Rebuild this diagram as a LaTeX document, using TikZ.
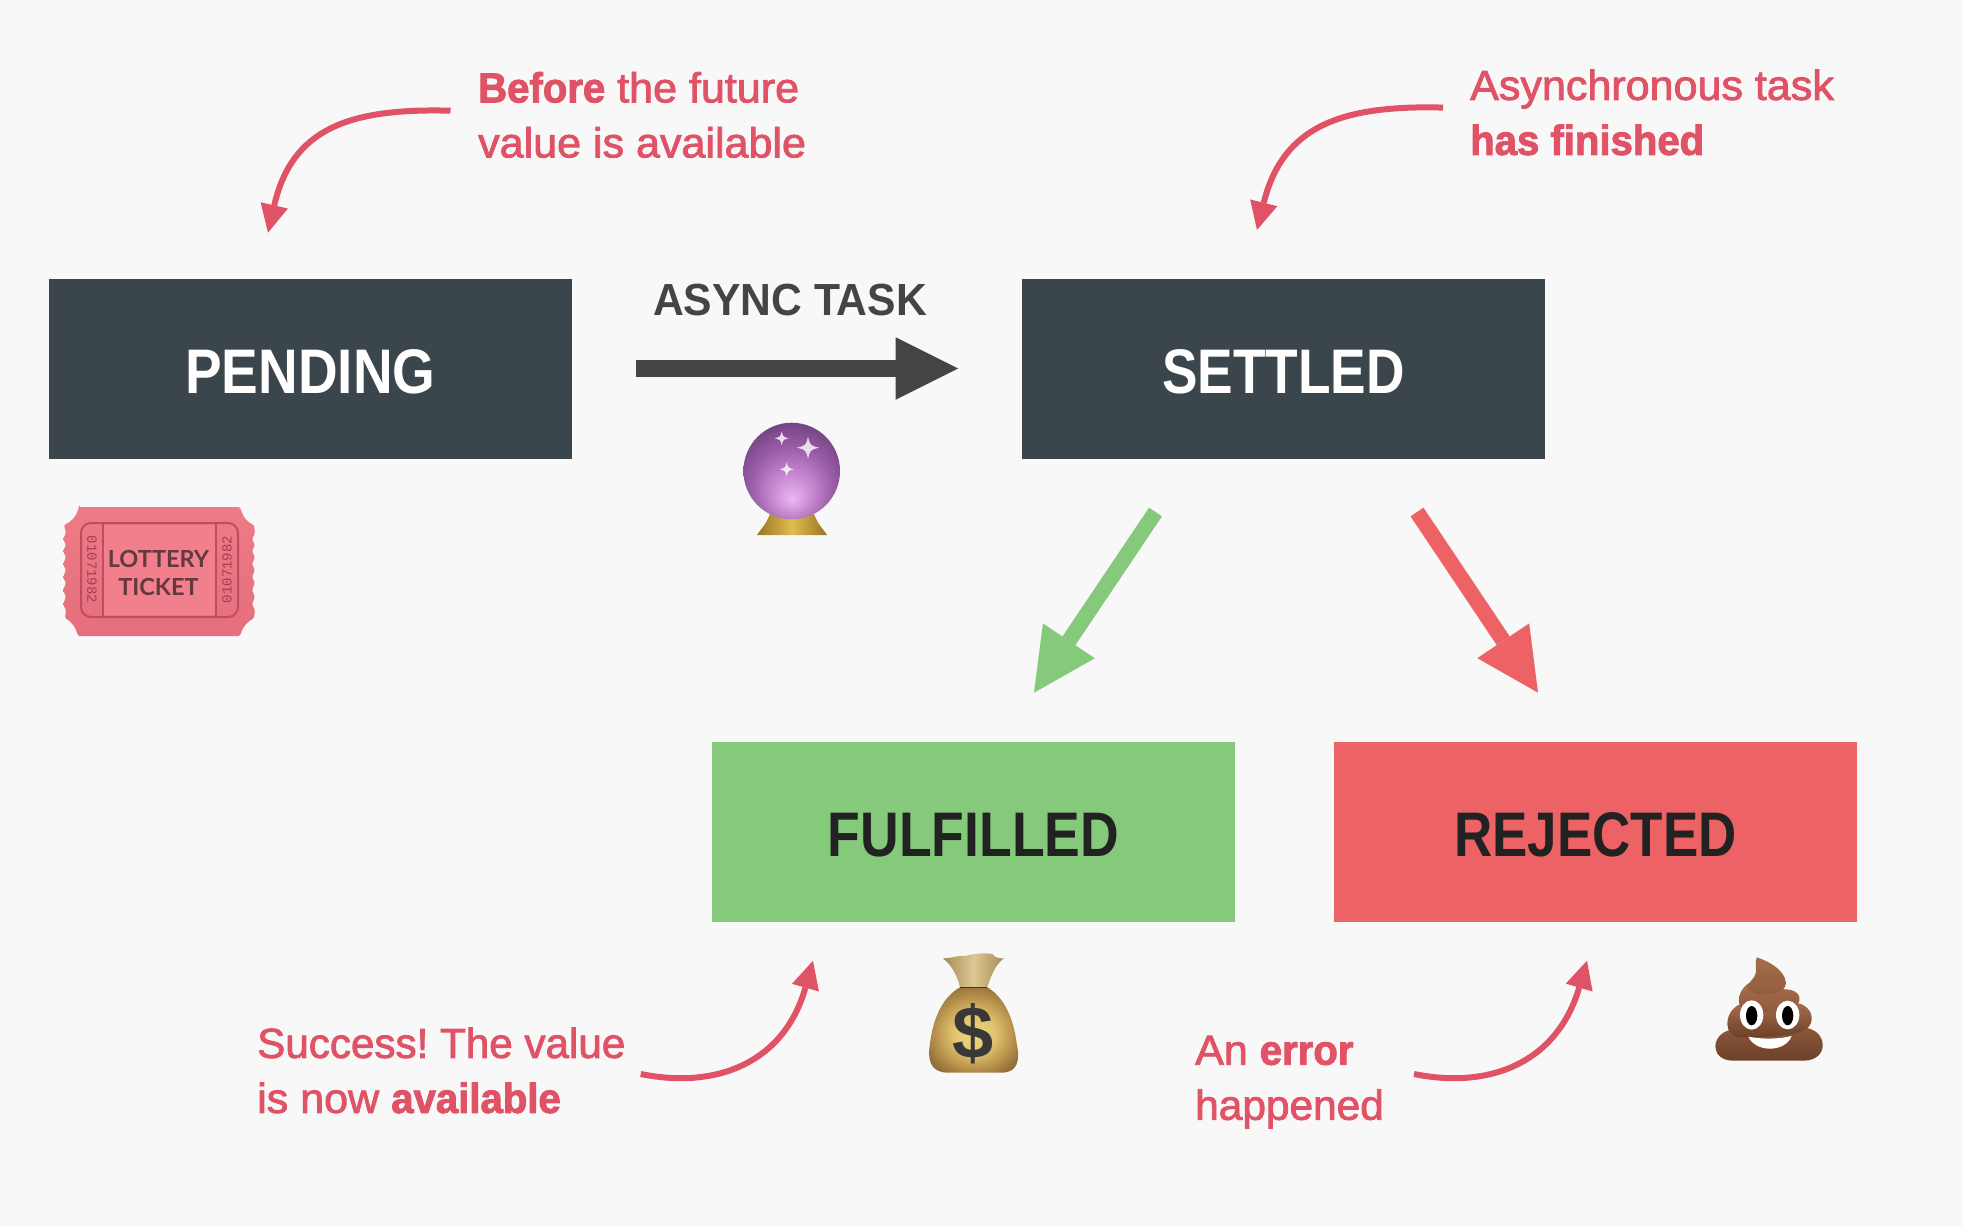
\documentclass[tikz,border=0pt]{standalone}
\usepackage{fontspec}
\usetikzlibrary{arrows.meta}
\setmainfont{Liberation Sans}
\newfontfamily\notefont[FakeStretch=1.025,FakeBold=2,BoldFeatures={FakeStretch=0.955,FakeBold=2.2}]{Liberation Sans}
\newfontfamily\ticketfont{Lato}
\newfontfamily\digitfont{Liberation Mono}
\definecolor{bgc}{HTML}{F8F8F8}
\definecolor{slate}{HTML}{3B464C}
\definecolor{okgreen}{HTML}{85C97B}
\definecolor{badred}{HTML}{ED6365}
\definecolor{notered}{HTML}{E05265}
\definecolor{asyncgrey}{HTML}{444444}
\definecolor{inktxt}{HTML}{222222}
\definecolor{tkbody}{HTML}{EE7B87}
\definecolor{tkbottom}{HTML}{E56F7C}
\definecolor{tkline}{HTML}{BE4E5F}
\definecolor{tklight}{HTML}{F1808C}
\definecolor{tktext}{HTML}{63393F}
\definecolor{tkdigit}{HTML}{A33F50}
\definecolor{goldedge}{HTML}{9A7420}
\definecolor{goldmid}{HTML}{E0BC50}
\definecolor{neckedge}{HTML}{A88A55}
\definecolor{neckmid}{HTML}{DCC893}
\definecolor{poolight}{HTML}{A56D4B}
\definecolor{poomid}{HTML}{8F5B3D}
\definecolor{poodark}{HTML}{6C4029}
\pgfdeclareradialshading{ballsh}{\pgfpoint{0bp}{-15bp}}{
  rgb(0bp)=(0.91,0.72,0.94);
  rgb(9bp)=(0.80,0.56,0.84);
  rgb(20bp)=(0.62,0.38,0.68);
  rgb(31bp)=(0.46,0.26,0.51);
  rgb(40bp)=(0.30,0.17,0.36);
  rgb(50bp)=(0.30,0.17,0.36)}
\pgfdeclareradialshading{bagsh}{\pgfpoint{0bp}{-3bp}}{
  rgb(0bp)=(0.93,0.84,0.50);
  rgb(11bp)=(0.88,0.77,0.44);
  rgb(20bp)=(0.74,0.59,0.31);
  rgb(28bp)=(0.58,0.44,0.22);
  rgb(50bp)=(0.58,0.44,0.22)}
\tikzset{
  statebox/.style={minimum width=523pt,minimum height=180pt,inner sep=0pt,text height=49.7pt,text depth=0pt,font=\fontsize{63}{63}\selectfont\bfseries},
  notetext/.style={anchor=north west,inner sep=0pt,align=left,text=notered,font=\notefont\frenchspacing\fontsize{42}{55}\selectfont},
  notearrow/.style={draw=notered,line width=6pt,-{Triangle[length=28pt,width=28pt,line width=0pt]}},
  bigarrow/.style={line width=#1,-{Triangle[length=62.5pt,width=62.5pt,line width=0pt]}},
}
\newcommand{\firstline}{\rule{0pt}{40pt}}
\newcommand{\sx}[2]{\scalebox{#1}[1]{#2}}
\newcommand{\sparkle}[3]{\fill[white,opacity=.8] (#1-#3,#2) .. controls (#1-.2*#3,#2-.2*#3) .. (#1,#2-#3) .. controls (#1+.2*#3,#2-.2*#3) .. (#1+#3,#2) .. controls (#1+.2*#3,#2+.2*#3) .. (#1,#2+#3) .. controls (#1-.2*#3,#2+.2*#3) .. cycle;}
\begin{document}
\begin{tikzpicture}[x=1pt,y=-1pt]
\useasboundingbox (0,0) rectangle (1962,1226);
\fill[bgc] (-3,-3) rectangle (1965,1229);

% state boxes
\node[statebox,fill=slate,text=white] (pending) at (310.5,368.5) {\sx{0.872}{PENDING}};
\node[statebox,fill=slate,text=white] (settled) at (1283.5,368.5) {\sx{0.845}{SETTLED}};
\node[statebox,fill=okgreen,text=inktxt] (fulfilled) at (973.5,831.5) {\sx{0.85}{FULFILLED}};
\node[statebox,fill=badred,text=inktxt] (rejected) at (1595.5,831.5) {\sx{0.84}{REJECTED}};

% async task
\node[anchor=base,inner sep=0pt,text=asyncgrey,font=\fontsize{45}{45}\selectfont\bfseries] (asynclabel) at (790,315.7) {\sx{0.947}{ASYNC TASK}};
\coordinate (asyncs) at (636,368.5);
\coordinate (asynce) at (958,368.5);
\draw[bigarrow=17pt,draw=asyncgrey,fill=asyncgrey] (asyncs) -- (asynce);

% settled outcomes
\coordinate (greens) at (1155.5,512);
\coordinate (greene) at (1034,692.7);
\coordinate (reds) at (1417,512);
\coordinate (rede) at (1538,692.7);
\draw[bigarrow=15.6pt,draw=okgreen] (greens) -- (greene);
\draw[bigarrow=15.6pt,draw=badred] (reds) -- (rede);

% notes
\node[notetext] (note1) at (478,62.2) {\firstline\textbf{Before} the future\\value is available};
\node[notetext] (note2) at (1470,59.7) {\firstline Asynchronous task\\\textbf{has finished}};
\node[notetext] (note3) at (257,1017.7) {\firstline\sx{0.98}{Success! The value}\\is now \textbf{available}};
\node[notetext] (note4) at (1195,1024.5) {\firstline An \textbf{error}\\\sx{0.985}{happened}};

\coordinate (n1s) at (450.5,110.7);
\coordinate (n1e) at (268,232.7);
\coordinate (n2s) at (1443,107.6);
\coordinate (n2e) at (1257,230);
\coordinate (n3s) at (640.7,1074);
\coordinate (n3e) at (813,960.7);
\coordinate (n4s) at (1414,1074);
\coordinate (n4e) at (1587,960.7);
\draw[notearrow] (n1s) .. controls (350,108) and (292,128) .. (n1e);
\draw[notearrow] (n2s) .. controls (1343,105) and (1283,125) .. (n2e);
\draw[notearrow] (n3s) .. controls (720,1090) and (785,1060) .. (n3e);
\draw[notearrow] (n4s) .. controls (1493,1090) and (1558,1060) .. (n4e);

% crystal ball
\path[left color=goldedge,right color=goldedge,middle color=goldmid]
  (770,514) .. controls (766,525) and (760,530) .. (757,535) -- (827,535) .. controls (824,530) and (818,525) .. (814,514) -- cycle;
\path[shading=ballsh] (791.7,471) circle (48.3);
\sparkle{781.7}{438.3}{7}
\sparkle{808}{447.7}{11}
\sparkle{786.7}{469.3}{7}

% lottery ticket
\path[top color=tkbody,bottom color=tkbottom,rounded corners=1.5pt]
  (79,507) -- (240,507) .. controls (243,517) and (247,522) .. (254,525)
  -- (255,533) -- (252,539) -- (255,545) -- (252,551) -- (255,557) -- (252,564) -- (255,570) -- (252,577) -- (255,583) -- (252,590) -- (255,597) -- (252,604) -- (255,610) -- (254,618)
  .. controls (247,622) and (242,628) .. (240,636) -- (78,636)
  .. controls (76,628) and (72,622) .. (65,618)
  -- (66,610) -- (63,604) -- (66,597) -- (63,590) -- (66,583) -- (63,577) -- (66,570) -- (63,564) -- (66,557) -- (63,551) -- (66,545) -- (63,539) -- (66,533) -- (64,525)
  .. controls (71,522) and (76,517) .. (79,507) -- cycle;
\fill[tklight] (104,524.5) rectangle (215,615);
\draw[tkline,line width=2pt,rounded corners=10pt] (81,523) rectangle (238,617);
\draw[tkline,line width=2pt] (103,523) -- (103,617) (216,523) -- (216,617);
\node[anchor=base,inner sep=0pt,text=tktext,font=\ticketfont\fontsize{23.5}{23.5}\selectfont\bfseries] (lot) at (158.5,567) {LOTTERY};
\node[anchor=base,inner sep=0pt,text=tktext,font=\ticketfont\fontsize{23.5}{23.5}\selectfont\bfseries] (tic) at (158.5,595) {TICKET};
\node[rotate=-90,inner sep=0pt,text=tkdigit,font=\digitfont\fontsize{14}{14}\selectfont] (dl) at (92,569.5) {01071982};
\node[rotate=90,inner sep=0pt,text=tkdigit,font=\digitfont\fontsize{14}{14}\selectfont] (dr) at (227,569.5) {01071982};

% money bag
\begin{scope}[shift={(900,930)},x=.3333pt,y=-.3333pt]
  \path[shading=bagsh] (180,172) .. controls (130,200) and (100,260) .. (90,340)
    .. controls (82,390) and (90,425) .. (140,428) -- (310,428)
    .. controls (350,425) and (362,395) .. (350,340)
    .. controls (340,260) and (310,200) .. (262,172) -- cycle;
  \path[left color=neckedge,right color=neckedge,middle color=neckmid]
    (180,172) .. controls (170,130) and (150,100) .. (128,85)
    .. controls (160,85) and (170,75) .. (195,78)
    .. controls (225,70) and (260,68) .. (277,72)
    .. controls (285,85) and (300,85) .. (312,85)
    .. controls (290,100) and (275,130) .. (262,172) -- cycle;
  \draw[black!60!neckedge,line width=1.2pt] (180,172) -- (262,172);
  \node[inner sep=0pt,text=black!78,font=\fontsize{74}{74}\selectfont\bfseries] (dollar) at (220,310) {\$};
\end{scope}

% pile
\begin{scope}[shift={(1690,940)},x=.3333pt,y=-.3333pt]
  \path[top color=poomid,bottom color=poodark] (120,270) .. controls (60,285) and (60,362) .. (130,362) -- (340,362) .. controls (415,362) and (415,280) .. (355,265) .. controls (270,250) and (190,255) .. cycle;
  \path[top color=poolight,bottom color=poodark] (145,195) .. controls (100,220) and (100,290) .. (150,292) .. controls (240,292) and (320,285) .. (345,270) .. controls (378,250) and (370,200) .. (325,190) -- cycle;
  \path[top color=poolight,bottom color=poomid] (175,130) .. controls (135,160) and (135,215) .. (185,218) .. controls (240,218) and (310,208) .. (325,190) .. controls (338,165) and (315,148) .. (285,148) -- cycle;
  \path[top color=poolight,bottom color=poomid] (200,52) .. controls (225,60) and (285,85) .. (288,130) .. controls (288,165) and (195,175) .. (175,148) .. controls (165,130) and (190,125) .. (197,100) .. controls (200,85) and (195,65) .. (200,52) -- cycle;
  \fill[white] (185,225) ellipse [x radius=35,y radius=44];
  \fill[white] (293,225) ellipse [x radius=35,y radius=43];
  \fill[black] (185,227) ellipse [x radius=17,y radius=29];
  \fill[black] (293,227) ellipse [x radius=17,y radius=29];
  \fill[white] (175,290) .. controls (215,298) and (265,298) .. (305,288) .. controls (295,315) and (265,326) .. (240,326) .. controls (210,326) and (185,312) .. (175,290) -- cycle;
\end{scope}
\end{tikzpicture}
\end{document}
